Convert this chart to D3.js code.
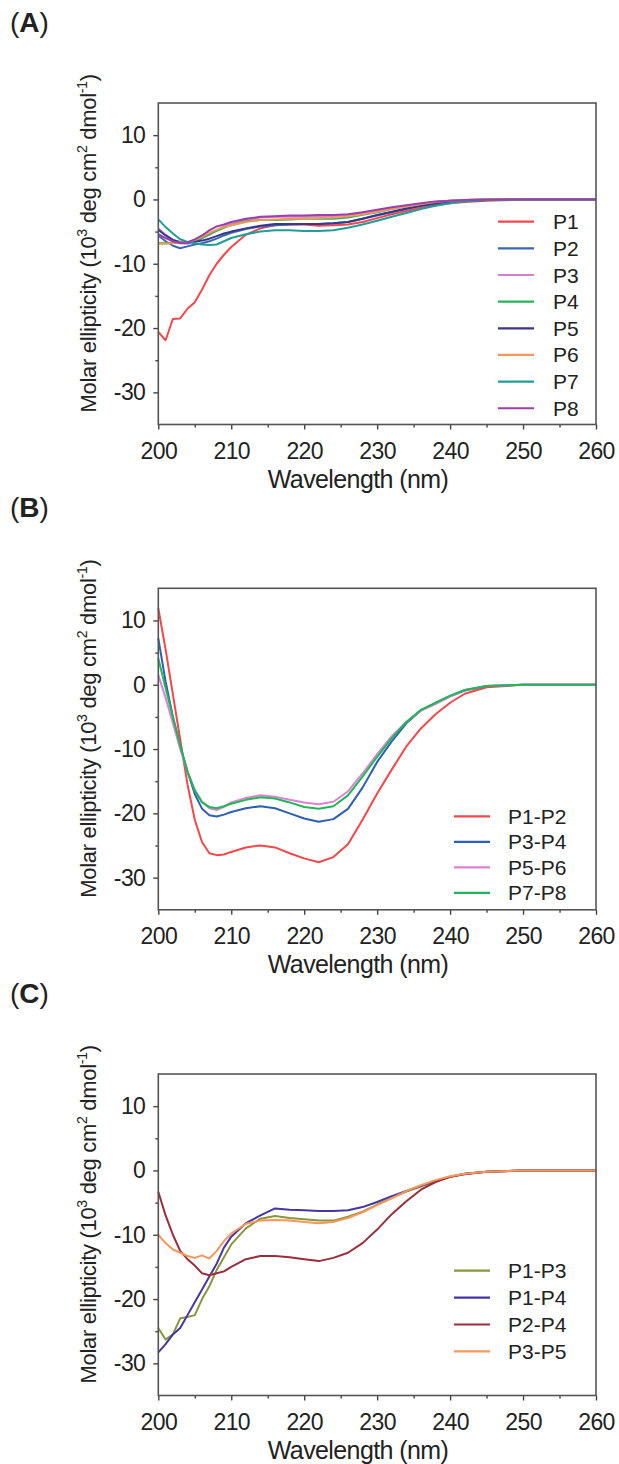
<!DOCTYPE html>
<html>
<head>
<meta charset="utf-8">
<script src="https://cdn.jsdelivr.net/npm/d3@7"></script>
<style>
  body { margin: 0; background: #fff; }
  text { font-family: "Liberation Sans", Arial, sans-serif; fill: #222; }
</style>
</head>
<body>
<div id="container"></div>
<script>
// wavelengths (nm) shared by every curve
const wave = [200, 201, 202, 203, 204, 205, 206, 207, 208, 209, 210, 212, 214, 216, 218, 220,
  222, 224, 226, 228, 230, 232, 234, 236, 238, 240, 242, 245, 250, 255, 260];

const xTicks = [200, 210, 220, 230, 240, 250, 260];
const xMinor = [205, 215, 225, 235, 245, 255];
const yTicks = [-30, -20, -10, 0, 10];
const yMinor = [-25, -15, -5, 5];

// panel A
const namesA = ["P1", "P2", "P3", "P4", "P5", "P6", "P7", "P8"];
const colorsA = ["#f5474c", "#3b68b5", "#d67fcf", "#25b45a", "#3a3689", "#f5975a", "#1f9d98", "#9c3eae"];
const a_P1 = [-20.6, -21.9, -18.6, -18.5, -17.0, -16.0, -14.0, -11.8, -10.0, -8.6, -7.4, -5.5, -4.5, -4.0, -3.9, -3.9, -4.1, -4.0, -3.9, -3.5, -2.9, -2.3, -1.8, -1.3, -0.9, -0.6, -0.4, -0.2, 0, 0, 0];
const a_P2 = [-5.6, -6.5, -7.2, -7.6, -7.3, -7.0, -6.8, -6.5, -6.1, -5.6, -5.2, -4.6, -4.2, -4.0, -3.9, -3.8, -3.8, -3.7, -3.5, -3.0, -2.5, -2.0, -1.5, -1.0, -0.7, -0.4, -0.2, -0.1, 0, 0, 0];
const a_P3 = [-4.5, -5.5, -6.3, -6.8, -6.9, -6.5, -6.0, -5.5, -4.8, -4.2, -3.8, -3.2, -2.8, -2.7, -2.7, -2.7, -2.6, -2.6, -2.5, -2.2, -1.8, -1.4, -1.0, -0.7, -0.4, -0.2, -0.1, 0, 0, 0, 0];
const a_P4 = [-6.8, -6.8, -6.7, -6.6, -6.7, -6.5, -6.0, -5.4, -4.9, -4.4, -4.0, -3.4, -3.2, -3.2, -3.1, -3.0, -3.0, -3.0, -2.8, -2.4, -2.0, -1.5, -1.1, -0.7, -0.4, -0.2, -0.1, 0, 0, 0, 0];
const a_P5 = [-4.7, -5.6, -6.3, -6.6, -6.7, -6.6, -6.4, -6.1, -5.7, -5.3, -5.0, -4.5, -4.1, -3.8, -3.8, -3.8, -3.8, -3.7, -3.5, -3.0, -2.4, -1.9, -1.4, -1.0, -0.6, -0.3, -0.2, -0.1, 0, 0, 0];
const a_P6 = [-6.9, -6.9, -6.8, -6.7, -6.6, -6.3, -5.8, -5.2, -4.7, -4.3, -4.0, -3.5, -3.2, -3.1, -3.0, -3.0, -2.9, -2.8, -2.6, -2.3, -1.9, -1.5, -1.1, -0.7, -0.4, -0.2, -0.1, 0, 0, 0, 0];
const a_P7 = [-3.1, -4.3, -5.3, -6.2, -6.6, -6.8, -7.0, -7.1, -7.0, -6.5, -6.0, -5.4, -5.0, -4.8, -4.8, -4.9, -4.9, -4.8, -4.4, -3.9, -3.3, -2.7, -2.1, -1.5, -1.0, -0.6, -0.3, -0.1, 0, 0, 0];
const a_P8 = [-5.4, -6.0, -6.5, -6.8, -6.7, -6.2, -5.6, -4.8, -4.2, -3.9, -3.5, -3.0, -2.7, -2.6, -2.5, -2.5, -2.4, -2.4, -2.3, -2.0, -1.6, -1.2, -0.9, -0.6, -0.3, -0.2, -0.1, 0, 0, 0, 0];

// panel B
const namesB = ["P1-P2", "P3-P4", "P5-P6", "P7-P8"];
const colorsB = ["#f4474a", "#2d5fb3", "#df80d6", "#1fb757"];
const b_P1P2 = [11.9, 5.5, -1.5, -8.5, -15.5, -21.0, -24.5, -26.2, -26.5, -26.4, -26.0, -25.3, -25.0, -25.3, -26.2, -27.0, -27.6, -26.8, -24.8, -21.0, -16.9, -13.2, -9.6, -6.8, -4.6, -2.8, -1.4, -0.4, 0, 0, 0];
const b_P3P4 = [7.2, 0.5, -5.0, -9.5, -13.5, -17.0, -19.3, -20.3, -20.5, -20.2, -19.8, -19.2, -18.9, -19.2, -20.0, -20.8, -21.3, -20.9, -19.3, -16.0, -12.0, -8.8, -6.0, -4.0, -2.9, -1.8, -0.9, -0.2, 0, 0, 0];
const b_P5P6 = [1.5, -2.0, -6.0, -10.0, -13.5, -16.3, -18.2, -19.2, -19.5, -19.0, -18.3, -17.6, -17.2, -17.4, -17.9, -18.3, -18.6, -18.2, -16.6, -13.8, -10.8, -8.0, -5.8, -4.0, -3.0, -1.8, -0.8, -0.2, 0, 0, 0];
const b_P7P8 = [4.1, -0.5, -5.0, -9.5, -13.5, -16.5, -18.3, -19.0, -19.2, -18.9, -18.5, -17.9, -17.5, -17.7, -18.3, -19.0, -19.3, -18.9, -17.2, -14.3, -11.2, -8.3, -5.8, -3.9, -2.8, -1.7, -0.8, -0.2, 0, 0, 0];

// panel C
const namesC = ["P1-P3", "P1-P4", "P2-P4", "P3-P5"];
const colorsC = ["#8a963a", "#4535a6", "#9a2d3a", "#f7975a"];
const c_P1P3 = [-24.5, -26.3, -25.5, -23.0, -22.8, -22.5, -20.0, -18.0, -15.5, -13.5, -11.5, -9.0, -7.5, -7.1, -7.4, -7.6, -7.8, -7.8, -7.2, -6.4, -5.3, -4.3, -3.3, -2.5, -1.7, -1.0, -0.5, -0.2, 0, 0, 0];
const c_P1P4 = [-28.3, -27.0, -25.5, -24.5, -22.5, -20.5, -18.5, -16.5, -14.5, -12.0, -10.3, -8.2, -7.0, -5.9, -6.1, -6.2, -6.3, -6.3, -6.2, -5.7, -4.9, -4.0, -3.2, -2.4, -1.6, -1.0, -0.5, -0.2, 0, 0, 0];
const c_P2P4 = [-3.3, -7.0, -10.0, -12.5, -13.8, -14.8, -16.0, -16.3, -16.0, -15.7, -15.0, -13.8, -13.3, -13.3, -13.5, -13.8, -14.1, -13.6, -12.8, -11.3, -9.2, -6.8, -4.8, -3.0, -1.8, -1.0, -0.6, -0.2, 0, 0, 0];
const c_P3P5 = [-10.0, -11.3, -12.3, -12.8, -13.3, -13.6, -13.2, -13.7, -12.5, -11.0, -9.8, -8.3, -7.8, -7.7, -7.8, -8.0, -8.2, -8.0, -7.4, -6.5, -5.4, -4.3, -3.2, -2.3, -1.5, -0.9, -0.5, -0.2, 0, 0, 0];

const W = 619, H = 1464;
const left = 158.3, right = 596, plotH = 321.5;

const svg = d3.select("#container")
  .append("svg")
  .attr("width", W)
  .attr("height", H);

const panels = [
  { label: "A", top: 103, names: namesA, colors: colorsA,
    series: [a_P1, a_P2, a_P3, a_P4, a_P5, a_P6, a_P7, a_P8],
    legX: 498, legY: 118.7, legDy: 26.65 },
  { label: "B", top: 588.3, names: namesB, colors: colorsB,
    series: [b_P1P2, b_P3P4, b_P5P6, b_P7P8],
    legX: 454, legY: 228, legDy: 25.5 },
  { label: "C", top: 1074, names: namesC, colors: colorsC,
    series: [c_P1P3, c_P1P4, c_P2P4, c_P3P5],
    legX: 454, legY: 196.7, legDy: 26.9 }
];

const x = d3.scaleLinear().domain([200, 260]).range([left, right]);
const y = d3.scaleLinear().domain([-35, 15]).range([plotH, 0]);

function drawPanel(p) {
  const g = svg.append("g").attr("transform", `translate(0, ${p.top})`);

  // panel letter
  const lab = g.append("text")
    .attr("x", 10)
    .attr("y", -71)
    .style("font-size", "28px");
  lab.append("tspan").text("(");
  lab.append("tspan").style("font-weight", "bold").text(p.label);
  lab.append("tspan").text(")");

  // x axis
  const xa = g.append("g")
    .attr("transform", `translate(0, ${plotH})`)
    .call(d3.axisBottom(x).tickValues(xTicks).tickSize(5).tickPadding(13).tickFormat(d => d));
  g.append("g")
    .attr("transform", `translate(0, ${plotH})`)
    .call(d3.axisBottom(x).tickValues(xMinor).tickSize(3).tickFormat(""));

  // y axis
  const ya = g.append("g")
    .attr("transform", `translate(${left}, 0)`)
    .call(d3.axisLeft(y).tickValues(yTicks).tickSize(5).tickPadding(8).tickFormat(d => String(d)));
  g.append("g")
    .attr("transform", `translate(${left}, 0)`)
    .call(d3.axisLeft(y).tickValues(yMinor).tickSize(3).tickFormat(""));

  g.selectAll(".domain").remove();
  g.selectAll(".tick line").attr("stroke", "#444").attr("stroke-width", 1.4);
  xa.selectAll("text").style("font-size", "23px").attr("fill", "#222").style("letter-spacing", "-0.6px");
  ya.selectAll("text").style("font-size", "23px").attr("fill", "#222").style("letter-spacing", "-0.6px");

  // curves
  const line = d3.line()
    .x((d, i) => x(wave[i]))
    .y(d => y(d));
  p.series.forEach((s, i) => {
    g.append("path")
      .datum(s)
      .attr("fill", "none")
      .attr("stroke", p.colors[i])
      .attr("stroke-width", 2)
      .attr("stroke-linejoin", "round")
      .attr("d", line);
  });

  // frame
  g.append("rect")
    .attr("x", left)
    .attr("y", 0)
    .attr("width", right - left)
    .attr("height", plotH)
    .attr("fill", "none")
    .attr("stroke", "#555")
    .attr("stroke-width", 1.6);

  // axis titles
  g.append("text")
    .attr("x", 358)
    .attr("y", plotH + 63)
    .attr("text-anchor", "middle")
    .style("font-size", "25px")
    .style("letter-spacing", "-0.6px")
    .text("Wavelength (nm)");

  const yt = g.append("text")
    .attr("transform", `translate(96, ${plotH - 12}) rotate(-90)`)
    .attr("text-anchor", "start")
    .style("font-size", "22px")
    .style("letter-spacing", "-0.3px");
  yt.append("tspan").text("Molar ellipticity (10");
  yt.append("tspan").attr("dy", -9).style("font-size", "14px").text("3");
  yt.append("tspan").attr("dy", 9).text(" deg cm");
  yt.append("tspan").attr("dy", -9).style("font-size", "14px").text("2");
  yt.append("tspan").attr("dy", 9).text(" dmol");
  yt.append("tspan").attr("dy", -9).style("font-size", "14px").text("-1");
  yt.append("tspan").attr("dy", 9).text(")");

  // legend
  const leg = g.selectAll(".leg")
    .data(p.names)
    .enter()
    .append("g")
    .attr("transform", (d, i) => `translate(${p.legX}, ${p.legY + i * p.legDy})`);
  leg.append("line")
    .attr("x1", 0).attr("x2", 36)
    .attr("stroke", (d, i) => p.colors[i])
    .attr("stroke-width", 2.2);
  leg.append("text")
    .attr("x", p.names[0].length > 2 ? 54 : 55)
    .attr("y", 7.5)
    .style("font-size", "21px")
    .text(d => d);
}

panels.forEach(drawPanel);
</script>
</body>
</html>
